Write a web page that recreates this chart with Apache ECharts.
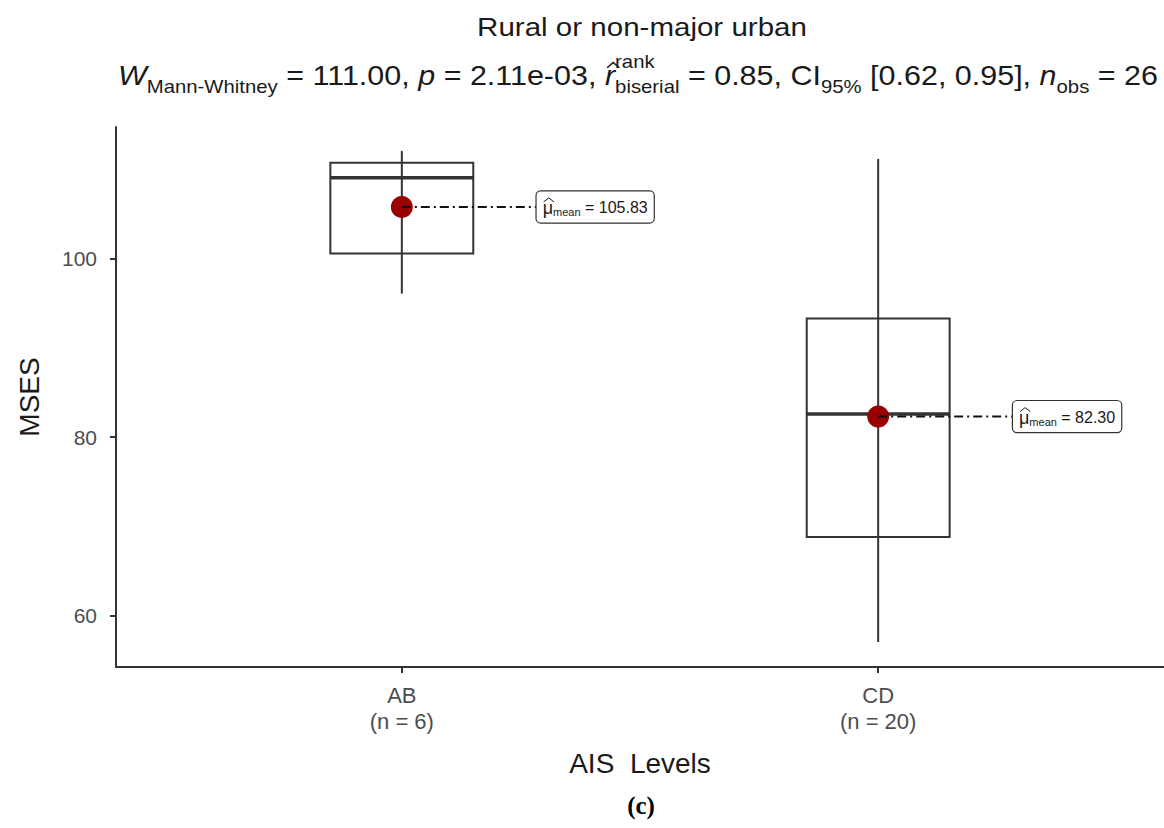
<!DOCTYPE html>
<html><head><meta charset="utf-8">
<script src="https://cdn.jsdelivr.net/npm/echarts@6/dist/echarts.min.js"></script>
<style>html,body{margin:0;padding:0;background:#fff}#c{width:1164px;height:828px}</style>
</head><body><div id="c"></div>
<script>
// ---------- data ----------
const categories = ['AB', 'CD'];
const groupSizes = ['(n = 6)', '(n = 20)'];
const whiskerLow = [96.1, 57.0];
const q1 = [100.6, 68.8];
const median = [109.1, 82.6];
const q3 = [110.8, 93.3];
const whiskerHigh = [112.1, 111.2];
const means = [105.83, 82.30];
const meanLabels = ['105.83', '82.30'];
const yTicks = [60, 80, 100];
const titleText = 'Rural or non-major urban';
const subtitleParts = [
  {t: 'W', it: true}, {t: 'Mann-Whitney', sub: true}, {t: ' = 111.00, '},
  {t: 'p', it: true}, {t: ' = 2.11e-03, '},
  {t: 'r', it: true, hat: true}, {up: 'rank', down: 'biserial'},
  {t: ' = 0.85, CI'}, {t: '95%', sub: true}, {t: ' [0.62, 0.95], '},
  {t: 'n', it: true}, {t: 'obs', sub: true}, {t: ' = 26'}
];
const xName = 'AIS  Levels';
const yName = 'MSES';
const panelTag = '(c)';

// ---------- header layout ----------
const FF = '"Liberation Sans", Arial, sans-serif';
const ctx = document.createElement('canvas').getContext('2d');
function tw(t, s, it) { ctx.font = (it ? 'italic ' : '') + s + 'px ' + FF; return ctx.measureText(t).width; }

function buildSubtitle() {
  const M = 27, S = 18;
  const kids = [];
  let x = 0;
  function put(t, s, it, base, xx) {
    kids.push({type: 'text', x: xx, y: base - 0.31 * s,
      style: {text: t, fontSize: s, fontFamily: FF, fontStyle: it ? 'italic' : 'normal',
        fill: '#1a1a1a', align: 'left', verticalAlign: 'middle'}});
  }
  subtitleParts.forEach(p => {
    if (p.up !== undefined) {
      put(p.up, S, false, -0.62 * M, x);
      put(p.down, S, false, 0.32 * M, x);
      x += Math.max(tw(p.up, S), tw(p.down, S));
    } else {
      const s = p.sub ? S : M;
      const base = p.sub ? 0.32 * M : 0;
      put(p.t, s, p.it, base, x);
      if (p.hat) {
        kids.push({type: 'polyline', shape: {points: [[x + 2, -0.6 * M], [x + 2 + 0.2 * M, -0.8 * M], [x + 2 + 0.4 * M, -0.6 * M]]},
          style: {stroke: '#1a1a1a', lineWidth: 1.4, fill: null}});
      }
      x += tw(p.t, s, p.it);
    }
  });
  return {kids, width: x};
}
const sub = buildSubtitle();
const subLeft = 118, subRight = 1158, subBase = 84;
const titleW = tw(titleText, 26);
const muW = tw('μ', 18);

// ---------- chart ----------
const chart = echarts.init(document.getElementById('c'), null, {renderer: 'svg'});
const AX = '#333333';
const option = {
  backgroundColor: '#ffffff',
  animation: false,
  textStyle: {fontFamily: FF},
  grid: {left: 116, top: 127, width: 1056, height: 540, containLabel: false},
  xAxis: {
    type: 'value', min: 0.4, max: 2.6,
    splitLine: {show: false},
    axisLine: {show: true, lineStyle: {color: AX, width: 2}},
    axisTick: {show: true, customValues: [1, 2], length: 6, lineStyle: {color: AX, width: 2}},
    axisLabel: {customValues: [1, 2], formatter: v => categories[Math.round(v) - 1] + '\n' + groupSizes[Math.round(v) - 1],
      fontSize: 22, lineHeight: 26, color: '#4d4d4d', margin: 15},
    name: xName, nameLocation: 'middle', nameGap: 82,
    nameTextStyle: {fontSize: 28, color: '#1a1a1a'}
  },
  yAxis: {
    type: 'value', min: 54.2, max: 114.8,
    splitLine: {show: false},
    axisLine: {show: true, lineStyle: {color: AX, width: 2}},
    axisTick: {show: true, customValues: yTicks, length: 6, lineStyle: {color: AX, width: 2}},
    axisLabel: {customValues: yTicks, fontSize: 21, color: '#4d4d4d', margin: 19},
    name: yName, nameLocation: 'middle', nameGap: 73, nameRotate: 90,
    nameTextStyle: {fontSize: 28, color: '#1a1a1a'}
  },
  graphic: [
    {type: 'text', x: 642, y: 35 - 0.31 * 26, scaleX: 330 / titleW,
      style: {text: titleText, fontSize: 26, fontFamily: FF, fill: '#1a1a1a', align: 'center', verticalAlign: 'middle'}},
    {type: 'group', x: subLeft, y: subBase, scaleX: (subRight - subLeft) / sub.width, children: sub.kids},
    {type: 'text', x: 641, y: 805,
      style: {text: panelTag, fontSize: 25, fontWeight: 'bold', fontFamily: '"Liberation Serif", serif', fill: '#000', align: 'center', verticalAlign: 'middle'}}
  ],
  series: [
    {
      type: 'custom', z: 2,
      data: categories.map((c, i) => [i + 1, whiskerLow[i], q1[i], median[i], q3[i], whiskerHigh[i]]),
      renderItem: (params, api) => {
        const x = api.value(0);
        const lo = api.coord([x, api.value(1)]);
        const hi = api.coord([x, api.value(5)]);
        const tl = api.coord([x - 0.15, api.value(4)]);
        const br = api.coord([x + 0.15, api.value(2)]);
        const ml = api.coord([x - 0.15, api.value(3)]);
        const mr = api.coord([x + 0.15, api.value(3)]);
        return {type: 'group', children: [
          {type: 'rect', shape: {x: tl[0], y: tl[1], width: br[0] - tl[0], height: br[1] - tl[1]},
            style: {fill: 'none', stroke: AX, lineWidth: 2}},
          {type: 'line', shape: {x1: lo[0], y1: lo[1], x2: hi[0], y2: hi[1]}, style: {stroke: AX, lineWidth: 2}},
          {type: 'line', shape: {x1: ml[0], y1: ml[1], x2: mr[0], y2: mr[1]}, style: {stroke: AX, lineWidth: 3.5}}
        ]};
      }
    },
    {
      type: 'scatter', z: 3,
      data: means.map((m, i) => [i + 1, m]),
      symbolSize: 22,
      itemStyle: {color: '#9b0000', opacity: 1}
    },
    {
      type: 'custom', z: 4,
      data: means.map((m, i) => [i + 1, m, i]),
      renderItem: (params, api) => {
        const x = api.value(0), m = api.value(1), i = api.value(2);
        const p = api.coord([x, m]);
        const e = api.coord([x + 0.283, m]);
        const hx = e[0] + 7;
        return {type: 'group', children: [
          {type: 'line', shape: {x1: p[0], y1: p[1], x2: e[0], y2: e[1]},
            style: {stroke: '#111', lineWidth: 2, lineDash: [9, 4, 2, 4]}},
          {type: 'text', x: e[0], y: e[1],
            style: {text: '{mu|μ}{sb|mean}{v| = ' + meanLabels[i] + '}',
              rich: {mu: {fontSize: 18, fontFamily: FF, fill: '#1a1a1a'},
                sb: {fontSize: 11, fontFamily: FF, fill: '#1a1a1a', padding: [8, 0, 0, 0]},
                v: {fontSize: 16, fontFamily: FF, fill: '#1a1a1a'}},
              align: 'left', verticalAlign: 'middle',
              backgroundColor: '#ffffff', borderColor: '#333', borderWidth: 1.2, borderRadius: 4,
              padding: [7, 6, 5, 6]}},
          {type: 'polyline', z2: 10, shape: {points: [[hx, e[1] - 5], [hx + muW / 2, e[1] - 9], [hx + muW, e[1] - 5]]},
            style: {stroke: '#1a1a1a', lineWidth: 1, fill: null}}
        ]};
      }
    }
  ]
};
chart.setOption(option);
</script>
</body></html>
